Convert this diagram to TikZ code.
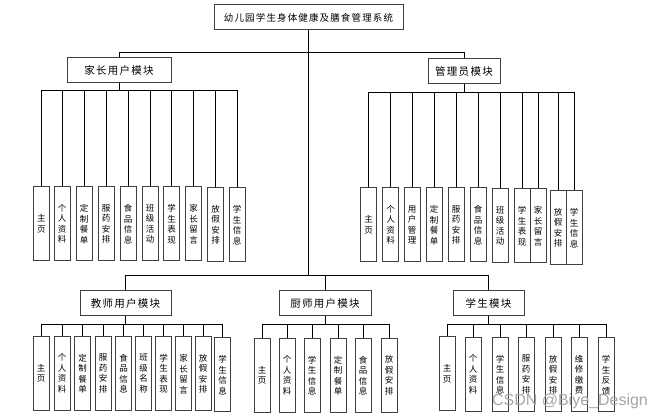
\documentclass[tikz,border=0pt]{standalone}
\usepackage{fontspec}
\newfontfamily\cjk{Noto Sans CJK SC}
\newfontfamily\cjkwide{Noto Sans CJK SC}[LetterSpace=12]
\newfontfamily\marksans{Liberation Sans}

\begin{document}
\begin{tikzpicture}[x=1pt, y=-1pt,
    box/.style={draw=black!75, line width=1pt, fill=white, inner sep=0pt, minimum height=25pt},
    modbox/.style={box, font=\cjkwide\fontsize{10.5}{12}\selectfont},
    leaf/.style={box, minimum width=16pt, minimum height=74pt, align=center, font=\cjk\fontsize{8.5}{10.5}\selectfont},
    link/.style={black, line width=0.8pt}]
    \useasboundingbox[fill=white] (0,0) rectangle (662,419);

    % System title and the five modules
    \node[box, minimum width=189pt, font=\cjkwide\fontsize{9.5}{11}\selectfont] (title) at (308.5,17.5) {幼儿园学生身体健康及膳食管理系统};
    \node[modbox, minimum width=104pt] (parent) at (119,70.5) {家长用户模块};
    \node[modbox, minimum width=72pt] (admin) at (464,71.5) {管理员模块};
    \node[modbox, minimum width=91pt] (teacher) at (125.5,303.5) {教师用户模块};
    \node[modbox, minimum width=92pt] (cook) at (325,303.5) {厨师用户模块};
    \node[modbox, minimum width=71pt] (student) at (488.5,303.5) {学生模块};

    % Bus points of the tree
    \coordinate (tbus) at (308.5,52);
    \coordinate (mbus) at (308.5,275);
    \coordinate (pbus) at (119,90);
    \coordinate (abus) at (464,92);
    \coordinate (tcbus) at (125.5,324);
    \coordinate (ckbus) at (325,324);
    \coordinate (stbus) at (488.5,324);

    % Parent user module leaves
    \node[leaf] (p1) at (41.5,224) {主\\页};
    \node[leaf] (p2) at (62,224) {个\\人\\资\\料};
    \node[leaf] (p3) at (84,224) {定\\制\\餐\\单};
    \node[leaf] (p4) at (106,224) {服\\药\\安\\排};
    \node[leaf] (p5) at (128,224) {食\\品\\信\\息};
    \node[leaf] (p6) at (150,224) {班\\级\\活\\动};
    \node[leaf] (p7) at (171.5,224) {学\\生\\表\\现};
    \node[leaf] (p8) at (193.5,224) {家\\长\\留\\言};
    \node[leaf] (p9) at (215.5,225) {放\\假\\安\\排};
    \node[leaf] (p10) at (237,225) {学\\生\\信\\息};

    % Administrator module leaves
    \node[leaf] (a1) at (368.5,225) {主\\页};
    \node[leaf] (a2) at (390.5,225) {个\\人\\资\\料};
    \node[leaf] (a3) at (412,225) {用\\户\\管\\理};
    \node[leaf] (a4) at (434,225) {定\\制\\餐\\单};
    \node[leaf] (a5) at (456,225) {服\\药\\安\\排};
    \node[leaf] (a6) at (478,225) {食\\品\\信\\息};
    \node[leaf] (a7) at (500,226) {班\\级\\活\\动};
    \node[leaf] (a8) at (522,226) {学\\生\\表\\现};
    \node[leaf] (a9) at (538,226) {家\\长\\留\\言};
    \node[leaf] (a10) at (558,228) {放\\假\\安\\排};
    \node[leaf] (a11) at (574,228) {学\\生\\信\\息};

    % Teacher user module leaves
    \node[leaf] (t1) at (41,373.5) {主\\页};
    \node[leaf] (t2) at (62,373.5) {个\\人\\资\\料};
    \node[leaf] (t3) at (82.5,373.5) {定\\制\\餐\\单};
    \node[leaf] (t4) at (103,373.5) {服\\药\\安\\排};
    \node[leaf] (t5) at (123.5,373.5) {食\\品\\信\\息};
    \node[leaf] (t6) at (143.5,373.5) {班\\级\\名\\称};
    \node[leaf] (t7) at (163.5,373.5) {学\\生\\表\\现};
    \node[leaf] (t8) at (183.5,374) {家\\长\\留\\言};
    \node[leaf] (t9) at (203,374) {放\\假\\安\\排};
    \node[leaf] (t10) at (222.5,375) {学\\生\\信\\息};

    % Cook user module leaves
    \node[leaf] (c1) at (262,375.5) {主\\页};
    \node[leaf] (c2) at (287,375.5) {个\\人\\资\\料};
    \node[leaf] (c3) at (312,375.5) {学\\生\\信\\息};
    \node[leaf] (c4) at (338,375.5) {定\\制\\餐\\单};
    \node[leaf] (c5) at (363,375.5) {食\\品\\信\\息};
    \node[leaf] (c6) at (389,375.5) {放\\假\\安\\排};

    % Student module leaves
    \node[leaf] (s1) at (447,374) {主\\页};
    \node[leaf] (s2) at (473,374.5) {个\\人\\资\\料};
    \node[leaf] (s3) at (500,374.5) {学\\生\\信\\息};
    \node[leaf] (s4) at (526,374.5) {服\\药\\安\\排};
    \node[leaf] (s5) at (553,375) {放\\假\\安\\排};
    \node[leaf] (s6) at (579,375) {维\\修\\缴\\费};
    \node[leaf] (s7) at (606,375) {学\\生\\反\\馈};

    % Connectors of the upper level
    \draw[link] (title) -- (mbus);
    \draw[link] (parent) |- (tbus);
    \draw[link] (admin) |- (tbus);
    \draw[link] (teacher) |- (mbus);
    \draw[link] (cook) |- (mbus);
    \draw[link] (student) |- (mbus);

    % Connectors of the leaves
    \draw[link] (parent) -- (pbus);
    \foreach \n in {1,...,10} {\draw[link] (p\n) |- (pbus);}
    \draw[link] (admin) -- (abus);
    \foreach \n in {1,...,11} {\draw[link] (a\n) |- (abus);}
    \draw[link] (teacher) -- (tcbus);
    \foreach \n in {1,...,10} {\draw[link] (t\n) |- (tcbus);}
    \draw[link] (cook) -- (ckbus);
    \foreach \n in {1,...,6} {\draw[link] (c\n) |- (ckbus);}
    \draw[link] (student) -- (stbus);
    \foreach \n in {1,...,7} {\draw[link] (s\n) |- (stbus);}

    % Watermark
    \node[gray!70, font=\marksans\fontsize{16}{18}\selectfont, inner sep=0pt] (wmark) at (570,401) {CSDN @Biye\_Design};
\end{tikzpicture}
\end{document}
